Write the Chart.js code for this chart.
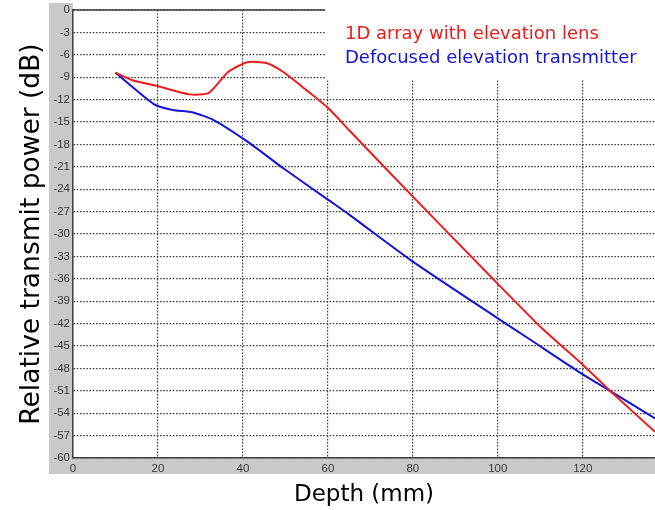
<!DOCTYPE html>
<html>
<head>
<meta charset="utf-8">
<script src="https://cdn.jsdelivr.net/npm/chart.js@4/dist/chart.umd.min.js"></script>
<style>
  html, body { margin: 0; padding: 0; background: #ffffff; }
  #wrap { width: 655px; height: 510px; }
</style>
</head>
<body>
<div id="wrap"><canvas id="c" width="655" height="510"></canvas></div>
<script>
// ---- data ----
const depthLens = [10, 14, 20, 27.5, 32, 36.5, 41, 45.5, 49.5, 54, 60, 65, 80, 99, 110.7, 120, 126.4, 137];
const powerLens = [-8.4, -9.4, -10.2, -11.3, -11.1, -8.3, -7.0, -7.1, -8.3, -10.3, -13.1, -16.1, -25.0, -36.1, -42.8, -47.5, -51.0, -56.5];
const depthDefocus = [10, 19, 23.5, 28, 33, 41, 49.5, 60, 65, 80, 100, 107.5, 120, 126.4, 137];
const powerDefocus = [-8.4, -12.6, -13.4, -13.7, -14.7, -17.6, -21.2, -25.4, -27.4, -33.7, -41.3, -44.1, -48.8, -51.0, -54.7];
const seriesNames = ['1D array with elevation lens', 'Defocused elevation transmitter'];
const xRange = [0, 137];
const xStep = 20;
const yRange = [-60, 0];
const yStep = 3;
const xTitle = 'Depth (mm)';
const yTitle = 'Relative transmit power (dB)';

const toPts = (xs, ys) => xs.map((x, i) => ({ x: x, y: ys[i] }));

const frame = {
  id: 'frame',
  beforeDraw(chart) {
    const { ctx, chartArea: a } = chart;
    ctx.save();
    ctx.fillStyle = '#c9c9c9';
    ctx.fillRect(49, 3, a.left - 49, 474 - 3);
    ctx.fillRect(49, a.bottom, chart.width - 49, 474 - a.bottom);
    ctx.restore();
  },
  beforeDatasetsDraw(chart) {
    const { ctx, chartArea: a } = chart;
    ctx.save();
    // top box line
    ctx.strokeStyle = '#404040';
    ctx.lineWidth = 1.5;
    ctx.beginPath();
    ctx.moveTo(a.left, a.top);
    ctx.lineTo(a.right, a.top);
    ctx.stroke();
    // legend box
    ctx.fillStyle = '#ffffff';
    ctx.fillRect(325, 0, chart.width - 325, 79);
    ctx.font = '18px "DejaVu Sans"';
    ctx.textBaseline = 'alphabetic';
    ctx.textAlign = 'left';
    chart.data.datasets.forEach((ds, i) => {
      ctx.fillStyle = ds.borderColor;
      ctx.fillText(ds.label, 345, 39 + i * 24);
    });
    ctx.restore();
  }
};

new Chart(document.getElementById('c'), {
  type: 'line',
  data: {
    datasets: [
      { label: seriesNames[0], data: toPts(depthLens, powerLens), borderColor: '#ee1c1c', borderWidth: 2, pointRadius: 0, tension: 0.2, fill: false },
      { label: seriesNames[1], data: toPts(depthDefocus, powerDefocus), borderColor: '#1414d8', borderWidth: 2, pointRadius: 0, tension: 0.2, fill: false }
    ]
  },
  options: {
    responsive: false,
    animation: false,
    layout: { padding: { top: 10, right: 0, bottom: 0, left: 0 } },
    plugins: { legend: { display: false }, tooltip: { enabled: false } },
    scales: {
      x: {
        type: 'linear',
        min: xRange[0], max: xRange[1],
        afterFit: s => { s.height = 52; },
        ticks: { stepSize: xStep, includeBounds: false, padding: 4, color: '#3a3a3a', font: { family: 'Liberation Sans', size: 11.5 }, maxRotation: 0, autoSkip: false },
        grid: { color: '#444444', lineWidth: 1.2, drawTicks: false },
        border: { display: true, color: '#404040', width: 1.5, dash: [1.6, 1.6] },
        title: { display: true, text: xTitle, color: '#000000', font: { family: 'DejaVu Sans', size: 23 }, padding: { top: 0, bottom: 1 } }
      },
      y: {
        type: 'linear',
        min: yRange[0], max: yRange[1],
        afterFit: s => { s.width = 73; },
        ticks: { stepSize: yStep, padding: 3, color: '#3a3a3a', font: { family: 'Liberation Sans', size: 11.5 }, autoSkip: false },
        grid: { color: '#444444', lineWidth: 1.2, drawTicks: false },
        border: { display: true, color: '#404040', width: 1.5, dash: [1.6, 1.6] },
        title: { display: true, text: yTitle, color: '#000000', font: { family: 'DejaVu Sans', size: 26.5 }, padding: { top: 16, bottom: 0 } }
      }
    }
  },
  plugins: [frame]
});
</script>
</body>
</html>
